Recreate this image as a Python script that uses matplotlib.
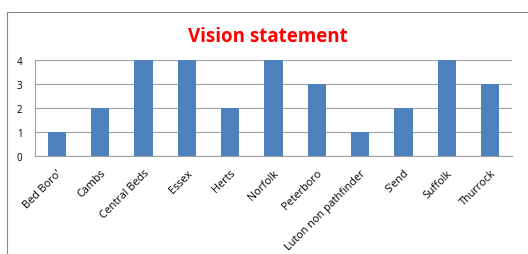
import matplotlib
matplotlib.use("Agg")
import matplotlib.pyplot as plt
from matplotlib.patches import Rectangle

categories = ["Bed Boro'", "Cambs", "Central Beds", "Essex", "Herts", "Norfolk",
              "Peterboro", "Luton non pathfinder", "S'end", "Suffolk", "Thurrock"]
values = [1, 2, 4, 4, 2, 4, 3, 1, 2, 4, 3]
yticks = [0, 1, 2, 3, 4]

W, H = 528, 255
fig = plt.figure(figsize=(W / 100, H / 100), dpi=100)
plt.rcParams['font.family'] = ['Open Sans', 'DejaVu Sans']

# outer chart frame
fig.patches.append(Rectangle((7 / W, -0.2), 1.2, 1 - 13 / H + 0.2,
                             transform=fig.transFigure, fill=False,
                             edgecolor='#888888', linewidth=0.8))

ax = fig.add_axes([35 / W, 1 - 157 / H, (512 - 35) / W, (157 - 61) / H])
x = range(len(categories))
ax.bar(x, values, width=0.42, color='#4F81BD', zorder=3)
ax.set_xlim(-0.5, len(categories) - 0.5)
ax.set_ylim(0, 4)
ax.set_yticks(yticks)
ax.set_yticklabels([str(v) for v in yticks], fontsize=7)
ax.set_xticks(list(x))
ax.set_xticklabels(categories, rotation=45, ha='right', rotation_mode='anchor', fontsize=7.8)
ax.tick_params(axis='x', length=0, pad=8)
ax.tick_params(axis='y', length=0, pad=9)
ax.grid(axis='y', color='#A0A0A0', linewidth=0.8, zorder=0)
for s in ['top', 'right']:
    ax.spines[s].set_visible(False)
ax.spines['left'].set_color('#A0A0A0')
ax.spines['bottom'].set_color('#A0A0A0')

fig.text(268 / W, 1 - 37 / H, "Vision statement", color='#FF0000', fontsize=13.5,
         fontweight='bold', ha='center', va='center')

fig.savefig("out.png", dpi=100)
